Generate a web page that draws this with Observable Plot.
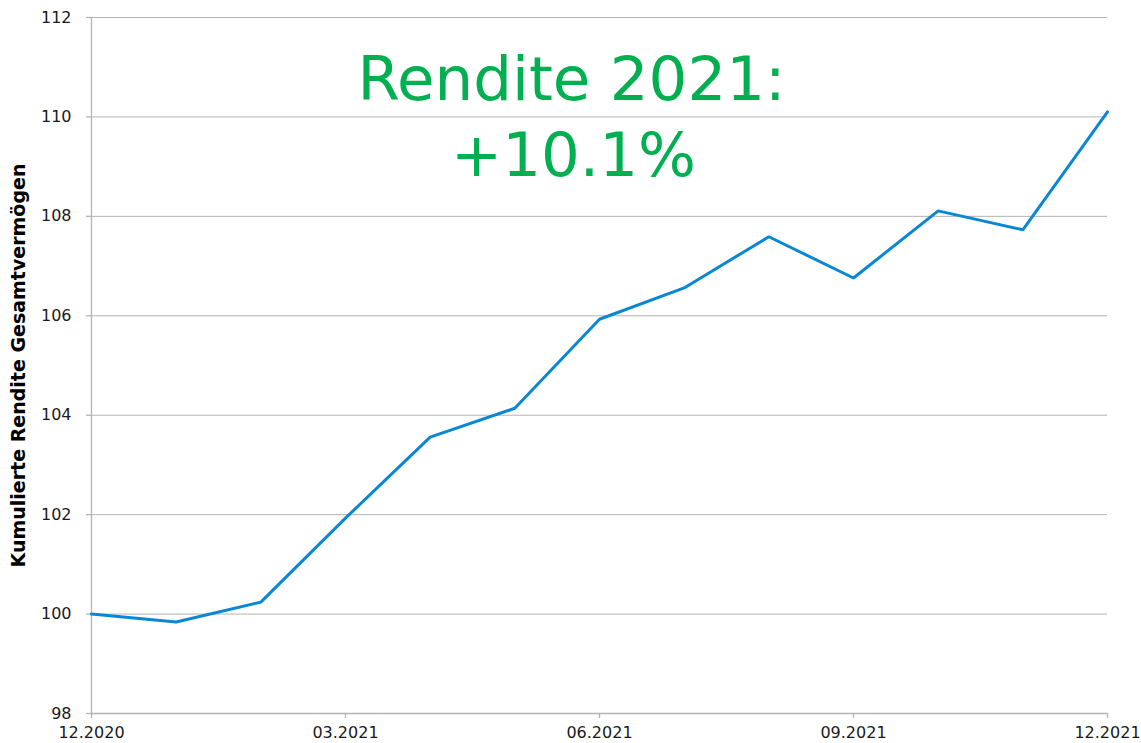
<!DOCTYPE html>
<html>
<head>
<meta charset="utf-8">
<script src="https://cdn.jsdelivr.net/npm/d3@7"></script>
<script src="https://cdn.jsdelivr.net/npm/@observablehq/plot@0.6"></script>
<style>
  html, body { margin: 0; padding: 0; background: #fff; }
  #chart { width: 1141px; height: 743px; }
</style>
</head>
<body>
<div id="chart"></div>
<script>
// Data
const months = ["12.2020","01.2021","02.2021","03.2021","04.2021","05.2021","06.2021","07.2021","08.2021","09.2021","10.2021","11.2021","12.2021"];
const values = [100.0, 99.84, 100.24, 101.93, 103.56, 104.14, 105.93, 106.56, 107.59, 106.76, 108.11, 107.73, 110.1];
const xTickIndex = [0, 3, 6, 9, 12];
const yTicks = [98, 100, 102, 104, 106, 108, 110, 112];
const titleLines = ["Rendite 2021:", "+10.1%"];
const yLabel = "Kumulierte Rendite Gesamtvermögen";

const data = months.map((m, i) => ({i, m, v: values[i]}));
const font = "'DejaVu Sans', Verdana, sans-serif";
const gray = "#b3b3b3";

const chart = Plot.plot({
  width: 1141,
  height: 743,
  marginLeft: 91,
  marginRight: 34,
  marginTop: 17,
  marginBottom: 30,
  style: {fontFamily: font, fontSize: "16px", color: "#1a1a1a", background: "#fff"},
  x: {domain: [0, 12]},
  y: {domain: [98, 112]},
  marks: [
    Plot.ruleY(yTicks.slice(1), {stroke: gray, strokeWidth: 1}),
    Plot.ruleX([0], {stroke: gray, strokeWidth: 1.3}),
    Plot.ruleY([98], {stroke: gray, strokeWidth: 1.3}),
    Plot.axisY({ticks: yTicks, tickSize: 5, tickPadding: 15, stroke: gray, strokeWidth: 1.3, label: null, fontSize: 16, fill: "#1a1a1a"}),
    Plot.axisX({ticks: xTickIndex, tickSize: 5, tickPadding: 8, stroke: gray, strokeWidth: 1.3, label: null, fontSize: 16, fill: "#1a1a1a",
      tickFormat: d => months[d]}),
    Plot.line(data, {x: "i", y: "v", stroke: "#0a87d4", strokeWidth: 3, strokeLinejoin: "miter"}),
    Plot.text([titleLines[0]], {frameAnchor: "top", dx: -28, dy: 39, text: d => d, fill: "#00b050", fontSize: 61, fontFamily: font}),
    Plot.text([titleLines[1]], {frameAnchor: "top", dx: -26, dy: 115, text: d => d, fill: "#00b050", fontSize: 61, fontFamily: font}),
    Plot.text([yLabel], {frameAnchor: "left", textAnchor: "middle", dx: -73, dy: 0, rotate: -90, text: d => d, fontWeight: "bold", fontSize: 19, fill: "#000", fontFamily: font})
  ]
});
document.getElementById("chart").appendChild(chart);
</script>
</body>
</html>
